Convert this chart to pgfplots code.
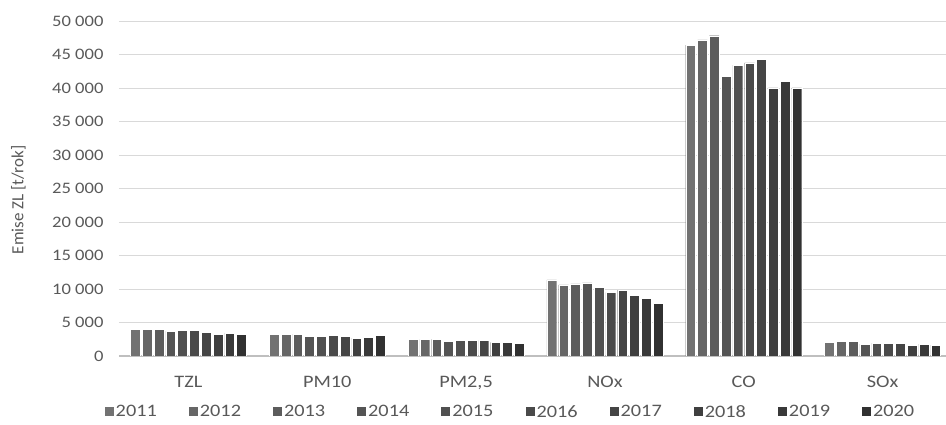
\documentclass[border=0pt]{standalone}
\usepackage{fontspec}
\setmainfont{Carlito}[FakeStretch=1.16]
\newfontfamily\labfont{Carlito}
\usepackage{pgfplots}
\usepackage{pgfplotstable}
\pgfplotsset{compat=1.18}

\definecolor{txt}{HTML}{595959}
\definecolor{grid}{HTML}{D9D9D9}
\definecolor{base}{HTML}{BFBFBF}
\definecolor{c2011}{HTML}{727272}
\definecolor{c2012}{HTML}{666666}
\definecolor{c2013}{HTML}{5C5C5C}
\definecolor{c2014}{HTML}{545454}
\definecolor{c2015}{HTML}{505050}
\definecolor{c2016}{HTML}{4A4A4A}
\definecolor{c2017}{HTML}{454545}
\definecolor{c2018}{HTML}{3F3F3F}
\definecolor{c2019}{HTML}{393939}
\definecolor{c2020}{HTML}{313131}

\newcommand\fs{\fontsize{16}{19}\selectfont}
\newcommand\fl{\fontsize{17.5}{21}\selectfont}

% emise podle latky (x = poradi kategorie), sloupce = roky
\pgfplotstableread{
x  y2011 y2012 y2013 y2014 y2015 y2016 y2017 y2018 y2019 y2020
0  4020  4020  4020  3720  3870  3870  3560  3260  3410  3260
1  3260  3260  3260  2950  2950  3100  2950  2650  2800  3100
2  2470  2470  2470  2170  2320  2320  2320  2020  2020  1860
3  11360 10600 10760 10900 10250 9500  9850  9090  8590  7880
4  46400 47200 47800 41750 43400 43750 44300 40000 41000 40000
5  2070  2230  2230  1770  1920  1920  1920  1620  1770  1620
}\emise

\begin{document}
\begin{tikzpicture}[font=\fs]
\useasboundingbox (-119pt,-69pt) rectangle (827pt,356pt);
\begin{axis}[
    scale only axis,
    width=833pt, height=335pt,
    ybar=2pt, bar width=9.8pt,
    xmin=-0.5, xmax=5.5,
    ymin=0, ymax=50000,
    xtick={0,...,5},
    xticklabels={TZL,PM10,{PM2,5},NOx,CO,SOx},
    ytick={0,5000,...,50000},
    scaled y ticks=false,
    major tick length=0pt,
    axis x line*=bottom,
    axis y line*=left,
    y axis line style={draw=none},
    x axis line style={draw=base, line width=1.2pt, -},
    ymajorgrids,
    grid style={draw=grid, line width=0.9pt},
    ticklabel style={font=\fs, text=txt},
    yticklabel style={xshift=-12pt,
        /pgf/number format/.cd, 1000 sep={\ }, assume math mode=true},
    xticklabel style={yshift=-17pt, font=\fl},
    ylabel={Emise ZL [t/rok]},
    ylabel style={font=\labfont\fontsize{17}{20}\selectfont,
        at={(axis description cs:-0.1207,0.466)}, anchor=center, text=txt},
    every axis plot/.append style={draw=white, line width=0.3pt},
    legend columns=10,
    legend style={draw=none, font=\fl, text=txt,
        at={(axis description cs:0.47,0)}, anchor=north, yshift=-45pt,
        /tikz/every even column/.append style={column sep=30pt}},
    legend image code/.code={\fill[#1,draw=none] (-1pt,-4.5pt) rectangle (8pt,4.5pt);},
]
\addplot[fill=c2011] table[x=x,y=y2011] {\emise};
\addplot[fill=c2012] table[x=x,y=y2012] {\emise};
\addplot[fill=c2013] table[x=x,y=y2013] {\emise};
\addplot[fill=c2014] table[x=x,y=y2014] {\emise};
\addplot[fill=c2015] table[x=x,y=y2015] {\emise};
\addplot[fill=c2016] table[x=x,y=y2016] {\emise};
\addplot[fill=c2017] table[x=x,y=y2017] {\emise};
\addplot[fill=c2018] table[x=x,y=y2018] {\emise};
\addplot[fill=c2019] table[x=x,y=y2019] {\emise};
\addplot[fill=c2020] table[x=x,y=y2020] {\emise};
\legend{2011,2012,2013,2014,2015,2016,2017,2018,2019,2020}
\end{axis}
\end{tikzpicture}
\end{document}
